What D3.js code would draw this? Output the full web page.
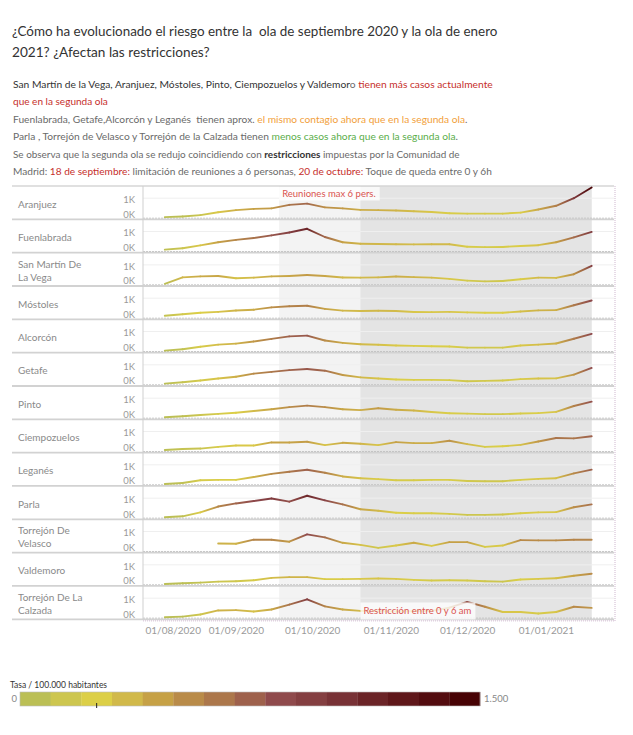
<!DOCTYPE html>
<html><head><meta charset="utf-8">
<script src="https://cdn.jsdelivr.net/npm/d3@7"></script>
<style>
body{margin:0;background:#fff;}
svg{display:block;font-family:Lato,"Noto Sans",sans-serif;}
text{white-space:pre;}
</style></head><body>
<svg id="c" width="633" height="735"></svg>
<script>
// ---------- DATA ----------
const weekDates = ["2020-08-04","2020-08-11","2020-08-18","2020-08-25","2020-09-01","2020-09-08","2020-09-15",
  "2020-09-22","2020-09-29","2020-10-06","2020-10-13","2020-10-20","2020-10-27","2020-11-03","2020-11-10",
  "2020-11-17","2020-11-24","2020-12-01","2020-12-08","2020-12-15","2020-12-22","2020-12-29","2021-01-05",
  "2021-01-12","2021-01-19"];
const municipios = ["Aranjuez","Fuenlabrada","San Martín De La Vega","Móstoles","Alcorcón","Getafe","Pinto",
  "Ciempozuelos","Leganés","Parla","Torrejón De Velasco","Valdemoro","Torrejón De La Calzada"];
const aranjuez      = [30,60,130,280,390,450,480,660,720,530,480,400,390,370,330,290,230,210,210,210,260,420,610,1000,1550];
const fuenlabrada   = [70,140,290,450,570,670,800,950,1140,720,450,370,360,350,340,345,350,220,200,210,260,300,450,700,980];
const sanMartin     = [30,360,410,430,310,345,410,430,480,430,350,345,360,400,370,345,280,190,155,170,260,345,330,520,950];
const mostoles      = [100,180,250,300,370,410,530,590,610,450,360,340,355,340,290,285,300,270,250,250,320,375,390,640,880];
const alcorcon      = [20,90,220,330,380,490,620,750,790,540,420,350,320,280,265,245,230,175,175,175,280,330,385,630,880];
const getafe        = [35,105,195,300,390,550,640,730,790,700,480,360,300,250,230,230,215,160,180,195,270,300,305,500,840];
const pinto         = [20,70,140,195,250,340,430,540,620,540,430,390,480,410,370,290,230,210,180,180,215,235,300,600,820];
const ciempozuelos  = [50,105,125,210,280,280,440,440,475,300,420,370,300,455,405,405,525,350,210,245,315,490,665,650,755];
const leganes       = [20,70,210,230,230,375,535,645,750,595,405,315,265,210,210,230,230,175,160,160,230,280,315,560,755];
const parla         = [20,70,270,570,730,855,980,820,1125,890,680,430,355,250,230,230,195,145,145,160,230,270,285,535,680];
const torrejonVelasco = [null,null,null,385,370,580,580,475,850,700,420,315,160,280,420,265,455,455,210,280,560,545,545,580,580];
const valdemoro     = [20,55,90,140,160,210,330,370,370,265,265,280,300,280,230,195,210,195,160,140,245,280,315,440,545];
const torrejonCalzada = [20,55,160,370,385,315,420,670,940,580,420,350,330,320,330,350,510,810,560,290,290,210,290,560,500];
const seriesValues = [aranjuez,fuenlabrada,sanMartin,mostoles,alcorcon,getafe,pinto,ciempozuelos,leganes,parla,
  torrejonVelasco,valdemoro,torrejonCalzada];

const xTickDates  = ["2020-08-01","2020-09-01","2020-10-01","2020-11-01","2020-12-01","2021-01-01"];
const xTickLabels = ["01/08/2020","01/09/2020","01/10/2020","01/11/2020","01/12/2020","01/01/2021"];
const yTickValues = [0,1000];
const yTickLabels = ["0K","1K"];
const xDomain = ["2020-07-26T10:00","2021-01-27T19:00"];

const shadePeriods = [["2020-09-18","2021-01-19"],["2020-10-20","2021-01-19"]];
const shadeColors  = ["#f3f3f3","#e4e4e4"];
const annotations  = [
  {text:"Reuniones max 6 pers.", date:"2020-09-18", panel:0, pos:"top"},
  {text:"Restricción entre 0 y 6 am", date:"2020-10-20", panel:12, pos:"bottom"}
];

const legendColors = ["#bbbf55","#cdc64f","#dccf47","#d1b94a","#c6a146","#b98b49","#ac774b","#9e614c",
  "#8f4a4c","#843f41","#783236","#6b2427","#5f171a","#530c0f","#470204"];
const legendDomain = [0,1500];
const legendLabels = ["0","1.500"];
const legendMarker = 250;
const legendTitle = "Tasa / 100.000 habitantes";

const RED="#c62f2c", ORANGE="#f2a03a", GREEN="#5aae4a", GREY="#6a6a6a", DARK="#333";
const titleLines = ["¿Cómo ha evolucionado el riesgo entre la  ola de septiembre 2020 y la ola de enero",
                    "2021? ¿Afectan las restricciones?"];
const titleWidths = [486, 198];
const paraLines = [
  [["San Martín de la Vega, Aranjuez, Móstoles, Pinto, Ciempozuelos y Valdemor",DARK],["o ",GREY],["tienen más casos actualmente",RED]],
  [["que en la segunda ola",RED]],
  [["Fuenlabrada, Getafe,Alcorcón y Leganés  tienen aprox. ",GREY],["el mismo contagio ahora que en la segunda ola",ORANGE],[".",GREY]],
  [["Parla , Torrejón de Velasco y Torrejón de la Calzada tienen ",GREY],["menos casos ahora que en la segunda ola",GREEN],[".",GREY]],
  [["Se observa que la segunda ola se redujo coincidiendo con ",GREY],["restricciones",DARK,"bold"],[" impuestas por la Comunidad de",GREY]],
  [["Madrid: ",GREY],["18 de septiembre:",RED],[" limitación de reuniones a 6 personas, ",GREY],["20 de octubre:",RED],[" Toque de queda entre 0 y 6h",GREY]]
];
const paraWidths = [480, 95, 455, 445, 447, 479];

// ---------- LAYOUT ----------
const svg = d3.select("#c");
const plotL=143, plotR=614, plotTop=186, panelH=33.33, labelL=12;
const nP = municipios.length;
const plotBottom = plotTop + panelH*nP;
const dates = weekDates.map(d=>new Date(d+"T00:00"));
const x = d3.scaleTime().domain(xDomain.map(d=>new Date(d))).range([plotL, plotR]);
const y = d3.scaleLinear().domain([0,1000]).range([31.7, 12.2]);
const colorStops = legendColors.map((c,i)=>50+i*100);
const color = d3.scaleLinear().domain(colorStops).range(legendColors).interpolate(d3.interpolateRgb).clamp(true);

function fit(t, target, base){
  t.attr("font-size",base);
  const len = t.node().getComputedTextLength();
  t.attr("font-size", base*target/len);
}

// Title
titleLines.forEach((t,i)=>{
  const el = svg.append("text").attr("x",12).attr("y",36+i*21).attr("fill","#333").text(t);
  fit(el, titleWidths[i], 16);
});
// Paragraph
paraLines.forEach((segs,i)=>{
  const t = svg.append("text").attr("x",13).attr("y",88+i*17.4);
  segs.forEach(s=>t.append("tspan").attr("fill",s[1]).attr("font-weight",s[2]||null).text(s[0]));
  fit(t, paraWidths[i], 12.3);
});

// Shading
shadePeriods.forEach((p,i)=>{
  const a=x(new Date(p[0]+"T00:00")), b=x(new Date(p[1]+"T00:00"));
  svg.append("rect").attr("x",a).attr("y",plotTop).attr("width",b-a).attr("height",plotBottom-plotTop)
    .attr("fill",shadeColors[i]);
});

const defs = svg.append("defs");
svg.append("line").attr("x1",labelL).attr("x2",plotR).attr("y1",plotTop).attr("y2",plotTop).attr("stroke","#d6d6d6").attr("stroke-width",1.5);

municipios.forEach((name,i)=>{
  const top = plotTop + i*panelH;
  const g = svg.append("g").attr("transform",`translate(0,${top})`);
  g.append("line").attr("x1",plotL).attr("x2",plotR).attr("y1",y(1000)).attr("y2",y(1000))
    .attr("stroke","#efefef").attr("stroke-width",1);
  g.append("line").attr("x1",plotL).attr("x2",plotR).attr("y1",y(0)+0.5).attr("y2",y(0)+0.5)
    .attr("stroke","#b5b5b5").attr("stroke-width",0.8).attr("stroke-dasharray","2,1");
  g.append("line").attr("x1",labelL).attr("x2",plotR).attr("y1",panelH).attr("y2",panelH)
    .attr("stroke","#d2d2d2").attr("stroke-width",1.8);
  const ax = g.append("g").attr("transform",`translate(138,0)`)
    .call(d3.axisLeft(y).tickValues(yTickValues).tickSize(0).tickFormat((d,k)=>yTickLabels[k]));
  ax.select(".domain").remove();
  ax.selectAll("text").attr("fill","#9a9a9a").attr("font-size",9.5).attr("font-family","Lato, sans-serif")
    .attr("dy",d=>d===0?"-0.05em":"0.45em");
  const words = name.split(" ");
  const lines=[]; let cur="";
  const meas = g.append("text").attr("font-size",10).attr("visibility","hidden");
  words.forEach(w=>{
    const test = cur?cur+" "+w:w;
    meas.text(test);
    if(meas.node().getComputedTextLength()>74 && cur){lines.push(cur);cur=w;} else cur=test;
  });
  lines.push(cur); meas.remove();
  const lt = g.append("text").attr("x",18).attr("font-size",10).attr("fill","#8a8a8a");
  const cy = panelH/2+1.5, lh=13;
  lines.forEach((l,k)=>lt.append("tspan").attr("x",18).attr("y",cy+(k-(lines.length-1)/2)*lh).attr("dy","0.35em").text(l));
  const vals = seriesValues[i];
  for(let k=0;k<vals.length-1;k++){
    if(vals[k]==null||vals[k+1]==null) continue;
    const x1=x(dates[k]), y1=y(vals[k]), x2=x(dates[k+1]), y2=y(vals[k+1]);
    const id=`g${i}_${k}`;
    const gr = defs.append("linearGradient").attr("id",id).attr("gradientUnits","userSpaceOnUse")
      .attr("x1",x1).attr("y1",y1).attr("x2",x2).attr("y2",y2);
    gr.append("stop").attr("offset",0).attr("stop-color",color(vals[k]));
    gr.append("stop").attr("offset",1).attr("stop-color",color(vals[k+1]));
    g.append("path").attr("d",d3.line()([[x1,y1],[x2,y2]])).attr("stroke",`url(#${id})`)
      .attr("stroke-width",1.9).attr("fill","none").attr("stroke-linecap","round");
  }
});

svg.append("line").attr("x1",plotL).attr("x2",plotL).attr("y1",plotTop).attr("y2",plotBottom).attr("stroke","#cfcfcf").attr("stroke-width",1);
svg.append("line").attr("x1",plotR+1).attr("x2",plotR+1).attr("y1",plotTop).attr("y2",plotBottom+2).attr("stroke","#e0d0e0").attr("stroke-width",1.5).attr("stroke-dasharray","1,1");
svg.append("line").attr("x1",plotL).attr("x2",plotR).attr("y1",plotBottom+1.5).attr("y2",plotBottom+1.5).attr("stroke","#e0d0e0").attr("stroke-width",1.5).attr("stroke-dasharray","1,1");

// Annotations
annotations.forEach(a=>{
  const ax0 = x(new Date(a.date+"T00:00"));
  const top = plotTop + a.panel*panelH;
  const ag = svg.append("g");
  const r = ag.append("rect");
  const t = ag.append("text").attr("font-size",9.5).attr("fill","#d9534f").text(a.text);
  const w = t.node().getComputedTextLength();
  const by = a.pos==="top" ? top+1 : top+16.5;
  const bh = a.pos==="top" ? 13.5 : 17;
  r.attr("x",ax0).attr("y",by).attr("width",w+7).attr("height",bh).attr("fill","#fff").attr("fill-opacity",0.78);
  t.attr("x",ax0+3).attr("y",by+bh/2).attr("dy","0.35em");
});

// X axis
const xa = svg.append("g").attr("transform",`translate(0,${plotBottom+5})`)
  .call(d3.axisBottom(x).tickValues(xTickDates.map(d=>new Date(d+"T00:00"))).tickSize(0).tickFormat((d,i)=>xTickLabels[i]));
xa.select(".domain").remove();
xa.selectAll("text").attr("fill","#9a9a9a").attr("font-size",10).attr("font-family","Lato, sans-serif");
xa.selectAll("text").each(function(d){
  const bb=this.getBBox(); const px = x(d);
  if(px+bb.x < plotL+2){ d3.select(this).attr("text-anchor","start").attr("x",plotL+2-px); }
});

// Legend
const lx = d3.scaleLinear().domain(legendDomain).range([20,480]);
svg.append("text").attr("x",10).attr("y",688).attr("font-size",8.5).attr("fill","#333").text(legendTitle);
const step = (legendDomain[1]-legendDomain[0])/legendColors.length;
svg.selectAll("rect.leg").data(legendColors).join("rect").attr("class","leg")
  .attr("x",(d,i)=>lx(i*step)).attr("width",(d,i)=>lx((i+1)*step)-lx(i*step)+0.3)
  .attr("y",692).attr("height",14).attr("fill",d=>d);
svg.append("rect").attr("x",20).attr("y",692).attr("width",460).attr("height",14).attr("fill","none").attr("stroke","#bbb").attr("stroke-width",0.6);
svg.append("line").attr("x1",lx(legendMarker)).attr("x2",lx(legendMarker)).attr("y1",703).attr("y2",708).attr("stroke","#222").attr("stroke-width",1);
svg.append("text").attr("x",17).attr("y",699).attr("dy","0.35em").attr("text-anchor","end").attr("font-size",9.5).attr("fill","#888").text(legendLabels[0]);
svg.append("text").attr("x",484).attr("y",699).attr("dy","0.35em").attr("font-size",9.5).attr("fill","#888").text(legendLabels[1]);
</script>
</body></html>
